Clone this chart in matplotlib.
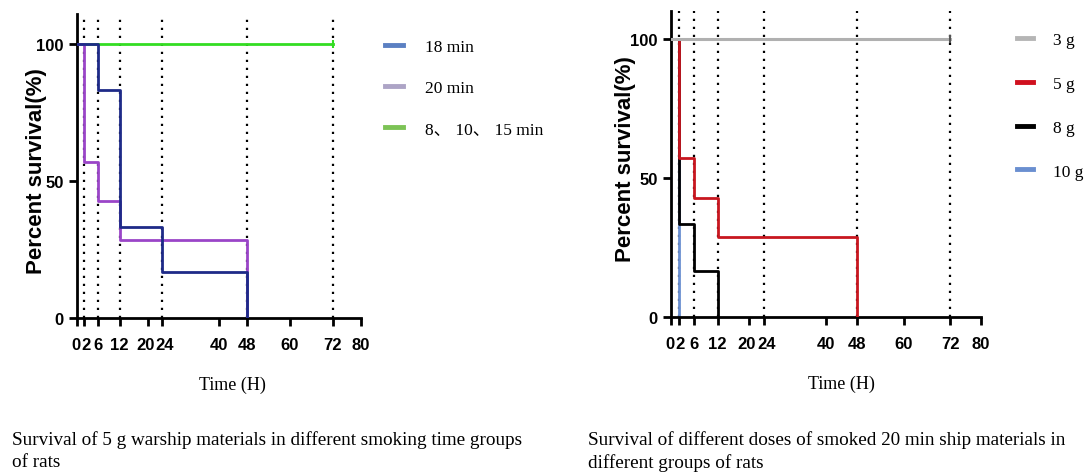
import matplotlib
matplotlib.use("Agg")
import matplotlib.pyplot as plt
import matplotlib.transforms as mtransforms
from matplotlib.lines import Line2D

# ---- left panel: smoking time groups (5 g warship materials) ----
t_18min = [0, 6, 12, 24, 48]
s_18min = [100, 83.3, 33.3, 16.7, 0]
t_20min = [0, 2, 6, 12, 48]
s_20min = [100, 57.1, 42.9, 28.6, 0]
t_low = [0, 72]
s_low = [100, 100]
left_labels = ["18 min", "20 min", "8\u3001 10\u3001 15 min"]

# ---- right panel: different doses (20 min ship materials) ----
t_3g = [0, 72]
s_3g = [100, 100]
t_5g = [0, 2, 6, 12, 48]
s_5g = [100, 57.1, 42.9, 28.6, 0]
t_8g = [0, 2, 6, 12]
s_8g = [100, 33.3, 16.7, 0]
t_10g = [0, 2]
s_10g = [100, 0]
right_labels = ["3 g", "5 g", "8 g", "10 g"]

x_ticks = [0, 2, 6, 12, 20, 24, 40, 48, 60, 72, 80]
y_ticks = [0, 50, 100]
dotted_times = [2, 6, 12, 24, 48, 72]

captions = [
    "Survival of 5 g warship materials in different smoking time groups\nof rats",
    "Survival of different doses of smoked 20 min ship materials in\ndifferent groups of rats",
]

W, H = 1089, 477
fig = plt.figure(figsize=(W / 100, H / 100), dpi=100)

sans = ["Liberation Sans", "DejaVu Sans"]
serif = ["Liberation Serif", "Noto Sans CJK SC", "DejaVu Serif"]
# crowded tick pairs (0/2, 20/24) pushed apart a hair so they just touch
nudge = {0: -1.5, 2: 1.5, 20: -2.2, 24: 2.2}


def px_axes(x0, x1, y_top, y_bottom):
    return fig.add_axes([x0 / W, 1 - y_bottom / H, (x1 - x0) / W, (y_bottom - y_top) / H])


def style_axes(ax, ymax, ylab_pos, xlab_x):
    ax.set_xlim(0, 80)
    ax.set_ylim(0, ymax)
    for side in ["top", "right"]:
        ax.spines[side].set_visible(False)
    for side in ["left", "bottom"]:
        ax.spines[side].set_linewidth(2)
    ax.set_xticks(x_ticks)
    ax.set_yticks(y_ticks)
    ax.tick_params(direction="out", length=6, width=2)
    ax.tick_params(axis="x", pad=8)
    for lab in ax.get_xticklabels() + ax.get_yticklabels():
        lab.set_fontfamily(sans)
        lab.set_fontweight("bold")
        lab.set_fontsize(12)
    for val, lab in zip(x_ticks, ax.get_xticklabels()):
        if val in nudge:
            off = mtransforms.ScaledTranslation(nudge[val] / 100, 0, fig.dpi_scale_trans)
            lab.set_transform(lab.get_transform() + off)
    for t in dotted_times:
        ax.axvline(t, color="black", linestyle=(0, (1, 2.6)), linewidth=1.6, zorder=1)
    ax.set_ylabel("Percent survival(%)", fontsize=16, fontweight="bold", family=sans)
    ax.yaxis.set_label_coords(*ylab_pos)
    ax.set_xlabel("Time (H)", fontsize=13, family=serif)
    ax.xaxis.set_label_coords(xlab_x, -0.19)


# left panel
ax1 = px_axes(77, 361, 15, 319)
style_axes(ax1, 111, (-0.107, 0.487), 0.546)
ax1.step(t_low, s_low, where="post", color="#33dd22", lw=2, zorder=2)
ax1.plot([72], [100], marker="|", color="#33dd22", ms=6, mew=1.5, zorder=2)
ax1.step(t_20min, s_20min, where="post", color="#9a45c8", lw=2, zorder=3)
ax1.step(t_18min, s_18min, where="post", color="#1e2a88", lw=2, zorder=4)
left_handles = [Line2D([], [], color=c, lw=3.5) for c in ["#5b80c2", "#ada4c6", "#7cc356"]]
ax1.legend(left_handles, left_labels, loc="upper left", bbox_to_anchor=(369 / W, 1 - 24 / H),
           bbox_transform=fig.transFigure, frameon=False, handlelength=1.05, handletextpad=1.25,
           labelspacing=1.45, prop=dict(family=serif, size=12.5))

# right panel
ax2 = px_axes(671, 981, 12, 318)
style_axes(ax2, 110, (-0.114, 0.52), 0.55)
ax2.step(t_10g, s_10g, where="post", color="#6a8fd0", lw=2, zorder=2)
ax2.step(t_8g, s_8g, where="post", color="black", lw=2, zorder=3)
ax2.step(t_5g, s_5g, where="post", color="#c8161f", lw=2, zorder=4)
ax2.step(t_3g, s_3g, where="post", color="#b0b0b0", lw=2.2, zorder=5)
ax2.plot([72], [100], marker="|", color="#555555", ms=6, mew=1.5, zorder=5)
right_handles = [Line2D([], [], color=c, lw=3.5) for c in ["#b5b5b5", "#d0101e", "black", "#6a8fd0"]]
ax2.legend(right_handles, right_labels, loc="upper left", bbox_to_anchor=(1001 / W, 1 - 17 / H),
           bbox_transform=fig.transFigure, frameon=False, handlelength=0.95, handletextpad=1.15,
           labelspacing=1.6, prop=dict(family=serif, size=12.5))

# captions under each panel
fig.text(12 / W, 1 - 431 / H, captions[0], ha="left", va="top", fontsize=13.8,
         family=serif, linespacing=1.38)
fig.text(588 / W, 1 - 431 / H, captions[1], ha="left", va="top", fontsize=13.8,
         family=serif, linespacing=1.38)

fig.savefig("out.png", dpi=100)
